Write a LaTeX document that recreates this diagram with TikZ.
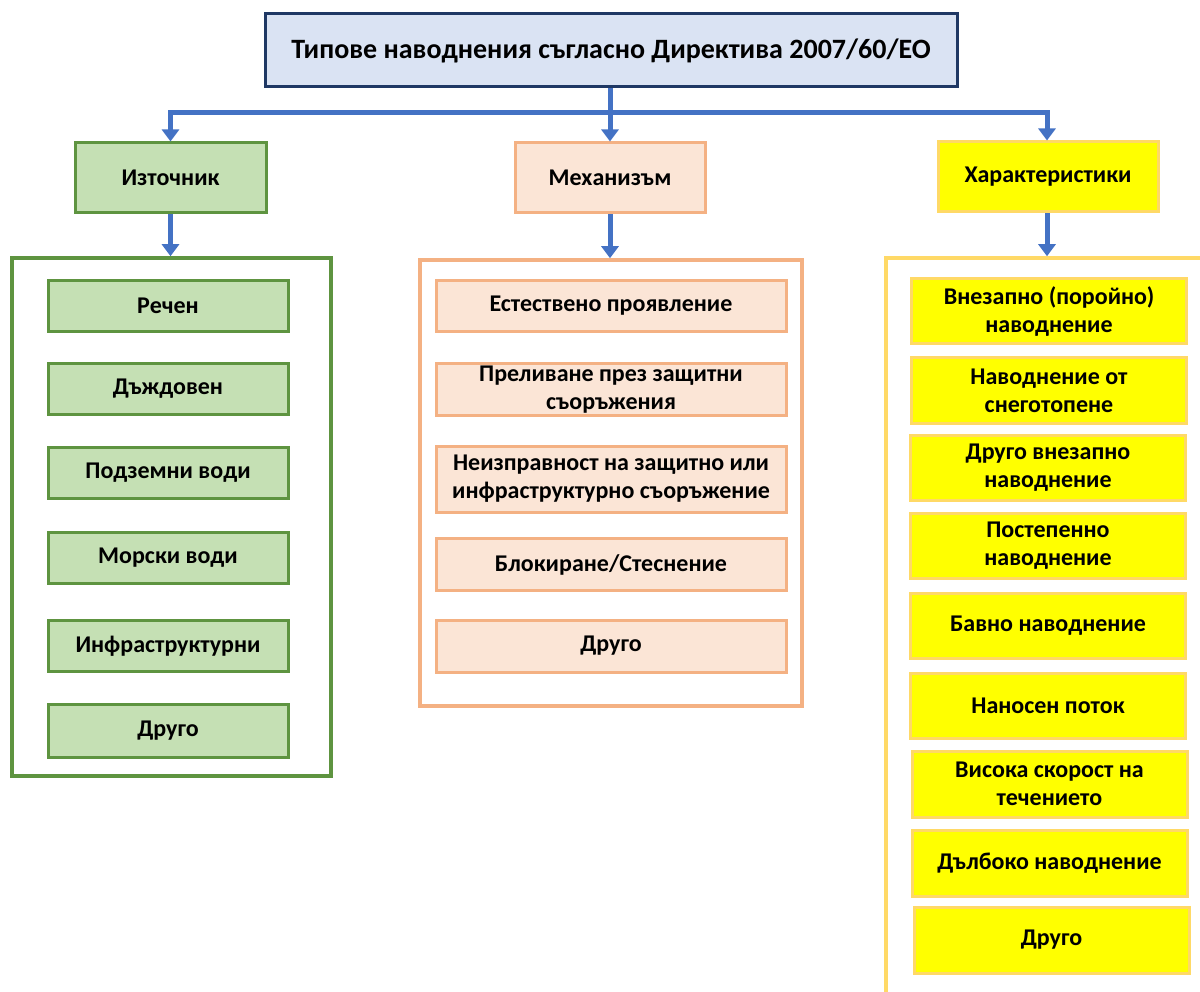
\documentclass[tikz,border=0pt]{standalone}
\usepackage{fontspec}
\setmainfont{Carlito}
\usetikzlibrary{arrows.meta}

\definecolor{titlefill}{HTML}{DAE3F3}
\definecolor{titleline}{HTML}{1F3864}
\definecolor{greenfill}{HTML}{C5E0B4}
\definecolor{greenline}{HTML}{5E9440}
\definecolor{peachfill}{HTML}{FBE5D6}
\definecolor{peachline}{HTML}{F4B183}
\definecolor{yellowfill}{HTML}{FFFF00}
\definecolor{yellowline}{HTML}{FFD966}
\definecolor{linkblue}{HTML}{4472C4}

\tikzset{
  box/.style={rectangle, draw, line width=3pt, inner sep=2pt, align=center,
    text=black, font=\bfseries\fontsize{24}{28}\selectfont},
  titlebox/.style={box, fill=titlefill, draw=titleline,
    font=\bfseries\fontsize{28}{32}\selectfont},
  greenbox/.style={box, fill=greenfill, draw=greenline},
  peachbox/.style={box, fill=peachfill, draw=peachline},
  yellowbox/.style={box, fill=yellowfill, draw=yellowline},
  group/.style={rectangle, line width=3.5pt, inner sep=0pt},
  greenitem/.style={greenbox, minimum width=240pt, minimum height=51pt},
  peachitem/.style={peachbox, minimum width=350pt},
  yellowitem/.style={yellowbox, minimum width=275pt},
  link/.style={draw=linkblue, line width=5pt},
  arrowlink/.style={link, -{Triangle[width=17pt,length=12pt]}},
}

\begin{document}
\begin{tikzpicture}[x=1pt,y=-1pt]
\useasboundingbox (0,0) rectangle (1200,992);
\begin{scope}
\clip (0,0) rectangle (1200,992);

% group frames
\node[group, draw=greenline, minimum width=319pt, minimum height=518pt] (srcgroup) at (171.5,517) {};
\node[group, draw=peachline, minimum width=382pt, minimum height=446pt] (mechgroup) at (611,483) {};
\node[group, draw=yellowline, minimum width=330pt, minimum height=752pt] (chargroup) at (1051,634) {};

% heading
\node[titlebox, minimum width=692pt, minimum height=73pt] (title) at (611,50.5)
  {Типове наводнения съгласно Директива 2007/60/EO};

% categories
\node[greenbox, minimum width=191pt, minimum height=70pt] (src) at (170.5,178) {Източник};
\node[peachbox, minimum width=190pt, minimum height=70pt] (mech) at (610,178) {Механизъм};
\node[yellowbox, minimum width=220pt, minimum height=70pt] (char) at (1048,177) {Характеристики};

% source items
\node[greenitem] (s1) at (168,306) {Речен};
\node[greenitem] (s2) at (168,389) {Дъждовен};
\node[greenitem] (s3) at (168,472.5) {Подземни води};
\node[greenitem] (s4) at (168,557.5) {Морски води};
\node[greenitem] (s5) at (168,646) {Инфраструктурни};
\node[greenitem, minimum height=53pt] (s6) at (168,731) {Друго};

% mechanism items
\node[peachitem, minimum height=51pt] (m1) at (611,306) {Естествено проявление};
\node[peachitem, minimum height=52pt] (m2) at (611,389.5) {Преливане през защитни\\съоръжения};
\node[peachitem, minimum height=66pt] (m3) at (611,479) {Неизправност на защитно или\\инфраструктурно съоръжение};
\node[peachitem, minimum height=52pt] (m4) at (611,564.5) {Блокиране/Стеснение};
\node[peachitem, minimum height=52pt] (m5) at (611,646) {Друго};

% characteristic items
\node[yellowitem, minimum height=65pt] (c1) at (1049,311.5) {Внезапно (поройно)\\наводнение};
\node[yellowitem, minimum height=65pt] (c2) at (1049,390.5) {Наводнение от\\снеготопене};
\node[yellowitem, minimum height=65pt] (c3) at (1048,467.5) {Друго внезапно\\наводнение};
\node[yellowitem, minimum height=65pt] (c4) at (1048,545.5) {Постепенно\\наводнение};
\node[yellowitem, minimum height=65pt] (c5) at (1048,625.5) {Бавно наводнение};
\node[yellowitem, minimum height=65pt] (c6) at (1048,705.5) {Наносен поток};
\node[yellowitem, minimum height=66pt] (c7) at (1049.5,784) {Висока скорост на\\течението};
\node[yellowitem, minimum height=66pt] (c8) at (1049.5,863.5) {Дълбоко наводнение};
\node[yellowitem, minimum height=66pt] (c9) at (1051.5,940) {Друго};

% connectors
\coordinate (hub) at (610,113);
\draw[link] (title.south -| hub) -- (hub);
\draw[arrowlink] (hub) -| (src.north);
\draw[arrowlink] (hub) -- (mech.north);
\draw[arrowlink] (hub) -| (char.north -| 1047,0);
\draw[arrowlink] (src.south) -- (src.south |- srcgroup.north);
\draw[arrowlink] (mech.south) -- (mech.south |- mechgroup.north);
\draw[arrowlink] (char.south -| 1047,0) -- (1047,0 |- chargroup.north);
\end{scope}
\end{tikzpicture}
\end{document}
